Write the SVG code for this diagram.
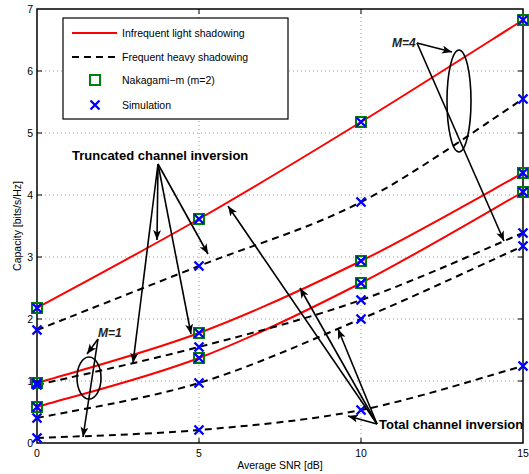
<svg xmlns="http://www.w3.org/2000/svg" width="529" height="474" viewBox="0 0 529 474">
<style>
text{font-family:"Liberation Sans",Arial,sans-serif;font-size:10.5px;fill:#000}
.grid{stroke:#999;stroke-width:1;stroke-dasharray:1,3;fill:none}
.tick{stroke:#000;stroke-width:1}
.red{stroke:#ff0000;stroke-width:2;fill:none}
.dash{stroke:#000;stroke-width:2;fill:none;stroke-dasharray:7,5}
.sq{stroke:#008000;stroke-width:2;fill:none}
.xm{stroke:#0000ff;stroke-width:2.4;fill:none}
.arr{stroke:#000;stroke-width:1.6;fill:none;marker-end:url(#ah)}
.ln{stroke:#000;stroke-width:1.6;fill:none}
.ann{font-size:13px;font-weight:bold}
.m{font-size:12px;font-weight:bold;font-style:italic;fill:#222}
</style>
<defs>
<marker id="ah" markerUnits="userSpaceOnUse" markerWidth="12" markerHeight="10" refX="10" refY="4" orient="auto">
<path d="M0,0 L10,4 L0,8 L2.5,4 Z" fill="#000"/>
</marker>
<rect id="sqm" x="-5" y="-5" width="10" height="10" class="sq"/>
<path id="xmk" d="M-4.5,-4.5 L4.5,4.5 M-4.5,4.5 L4.5,-4.5" class="xm"/>
</defs>
<rect width="529" height="474" fill="#fff"/>
<g id="grid">
<path class="grid" d="M37,381H523M37,319H523M37,257H523M37,195H523M37,133H523M37,71H523M199,9V443M361,9V443"/>
</g>
<g id="axes">
<rect x="37" y="9" width="486" height="434" fill="none" stroke="#000" stroke-width="1.5"/>
<path class="tick" d="M37,381h5M37,319h5M37,257h5M37,195h5M37,133h5M37,71h5M523,381h-5M523,319h-5M523,257h-5M523,195h-5M523,133h-5M523,71h-5M199,443v-5M361,443v-5M199,9v5M361,9v5"/>
<g text-anchor="end">
<text x="33" y="447">0</text><text x="33" y="385">1</text><text x="33" y="323">2</text><text x="33" y="261">3</text><text x="33" y="199">4</text><text x="33" y="137">5</text><text x="33" y="75">6</text><text x="33" y="13">7</text>
</g>
<g text-anchor="middle">
<text x="37" y="457">0</text><text x="199" y="457">5</text><text x="361" y="457">10</text><text x="523" y="457">15</text>
<text x="280" y="469">Average SNR [dB]</text>
<text transform="translate(21,226) rotate(-90)">Capacity [bits/s/Hz]</text>
</g>
</g>
<g id="curves">
<path class="red" d="M37,308 C64,293.2 145,250 199,219 C253,188 307,155.2 361,122 C415,88.8 496,37 523,20"/>
<path class="red" d="M37,383 C64,374.7 145,353.3 199,333 C253,312.7 307,287.7 361,261 C415,234.3 496,187.7 523,173"/>
<path class="red" d="M37,407 C64,398.8 145,378.7 199,358 C253,337.3 307,310.7 361,283 C415,255.3 496,207.2 523,192"/>
<path class="dash" d="M37,330 C64,319.3 145,287.3 199,266 C253,244.7 307,229.8 361,202 C415,174.2 496,116.2 523,99"/>
<path class="dash" d="M37,385 C64,378.7 145,361.2 199,347 C253,332.8 307,319 361,300 C415,281 496,244.2 523,233"/>
<path class="dash" d="M37,418 C64,412.2 145,399.5 199,383 C253,366.5 307,341.8 361,319 C415,296.2 496,258.2 523,246"/>
<path class="dash" d="M37,438 C64,436.7 145,434.7 199,430 C253,425.3 307,420.7 361,410 C415,399.3 496,373.3 523,366"/>
</g>
<g id="markers">
<use href="#sqm" x="37" y="308"/><use href="#sqm" x="199" y="219"/><use href="#sqm" x="361" y="122"/><use href="#sqm" x="523" y="20"/>
<use href="#sqm" x="37" y="383"/><use href="#sqm" x="199" y="333"/><use href="#sqm" x="361" y="261"/><use href="#sqm" x="523" y="173"/>
<use href="#sqm" x="37" y="407"/><use href="#sqm" x="199" y="358"/><use href="#sqm" x="361" y="283"/><use href="#sqm" x="523" y="192"/>
<use href="#xmk" x="37" y="308"/><use href="#xmk" x="199" y="219"/><use href="#xmk" x="361" y="122"/><use href="#xmk" x="523" y="20"/>
<use href="#xmk" x="37" y="383"/><use href="#xmk" x="199" y="333"/><use href="#xmk" x="361" y="261"/><use href="#xmk" x="523" y="173"/>
<use href="#xmk" x="37" y="407"/><use href="#xmk" x="199" y="358"/><use href="#xmk" x="361" y="283"/><use href="#xmk" x="523" y="192"/>
<use href="#xmk" x="37" y="330"/><use href="#xmk" x="199" y="266"/><use href="#xmk" x="361" y="202"/><use href="#xmk" x="523" y="99"/>
<use href="#xmk" x="37" y="385"/><use href="#xmk" x="199" y="347"/><use href="#xmk" x="361" y="300"/><use href="#xmk" x="523" y="233"/>
<use href="#xmk" x="37" y="418"/><use href="#xmk" x="199" y="383"/><use href="#xmk" x="361" y="319"/><use href="#xmk" x="523" y="246"/>
<use href="#xmk" x="37" y="438"/><use href="#xmk" x="199" y="430"/><use href="#xmk" x="361" y="410"/><use href="#xmk" x="523" y="366"/>
</g>
<g id="legend">
<rect x="63" y="18" width="225" height="101" fill="#fff" stroke="#000" stroke-width="1.2"/>
<path class="red" d="M72,33H117"/>
<path class="dash" d="M72,57H117" stroke-dasharray="7,5"/>
<use href="#sqm" x="95" y="80"/>
<use href="#xmk" x="95" y="105"/>
<text x="122" y="37">Infrequent light shadowing</text>
<text x="122" y="61">Frequent heavy shadowing</text>
<text x="122" y="84">Nakagami−m (m=2)</text>
<text x="122" y="109">Simulation</text>
</g>
<g id="connectors">
<path class="arr" d="M158,164 L157,240"/>
<path class="arr" d="M158,164 L208,254"/>
<path class="arr" d="M158,164 L191,334"/>
<path class="arr" d="M158,164 L133,363"/>
<path class="arr" d="M377,424 L228,206"/>
<path class="arr" d="M377,424 L300,288"/>
<path class="arr" d="M377,424 L338,329"/>
<path class="arr" d="M377,424 L348,416"/>
<path class="arr" d="M417,43 L452,52"/>
<path class="arr" d="M417,43 L504,241"/>
<path class="arr" d="M98,339 L87,354"/>
<path class="arr" d="M98,339 L83,437"/>
</g>
<g id="truncated-label"><text class="ann" x="72" y="160">Truncated channel inversion</text></g>
<g id="total-label"><text class="ann" x="379" y="429">Total channel inversion</text></g>
<g id="m4"><text class="m" x="392" y="47">M=4</text><ellipse cx="459" cy="101" rx="12" ry="51" class="ln"/></g>
<g id="m1"><text class="m" x="98" y="337">M=1</text><ellipse cx="89" cy="378" rx="12" ry="21" class="ln"/></g>
</svg>
